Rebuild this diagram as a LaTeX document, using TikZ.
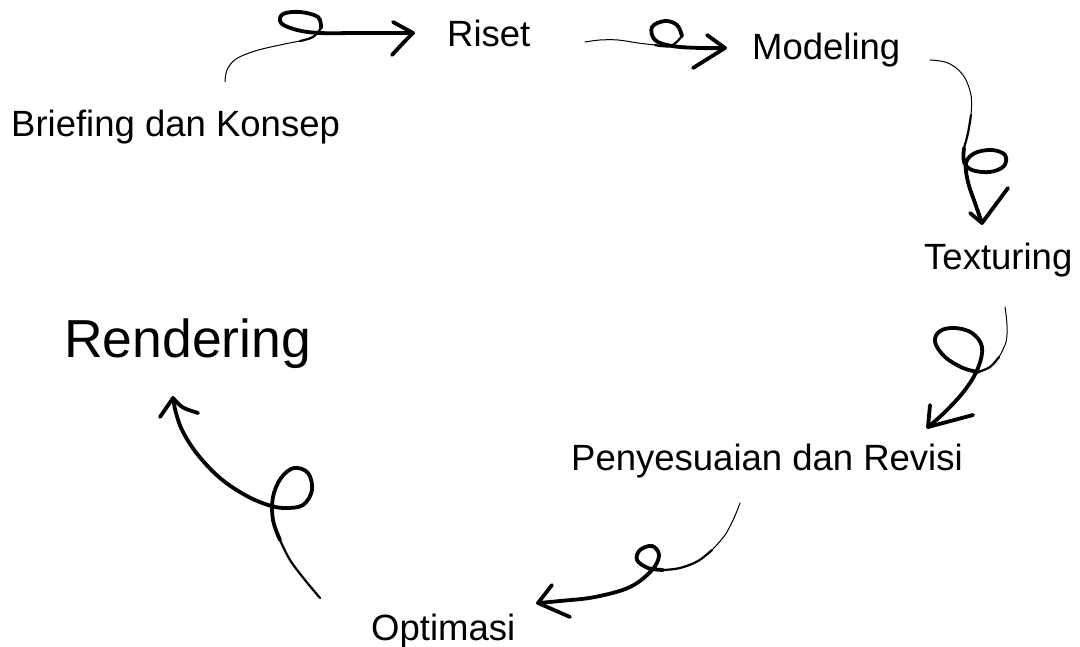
\documentclass[tikz,border=0pt]{standalone}
\usepackage{fontspec}
\setmainfont{Liberation Sans}
\begin{document}
\begin{tikzpicture}[x=1pt,y=-1pt,
  lbl/.style={anchor=base west, inner sep=0pt, font=\fontsize{36.5}{40}\selectfont},
  big/.style={anchor=base west, inner sep=0pt, font=\fontsize{53.5}{58}\selectfont},
  wa/.style={line width=1pt, line cap=round, line join=round},
  wb/.style={line width=2.2pt, line cap=round, line join=round},
  wc/.style={line width=3.8pt, line cap=round, line join=round},
  sm/.style={smooth, tension=0.6}]
\fill[white] (0,0) rectangle (1080,647);
\useasboundingbox (0,0) rectangle (1080,647);

% labels
\node[lbl] (brief) at (11,137) {Briefing dan Konsep};
\node[lbl] (riset) at (447,47) {Riset};
\node[lbl] (model) at (752,60) {Modeling};
\node[lbl] (tex) at (924,270) {Texturing};
\node[lbl] (rev) at (571,470) {Penyesuaian dan Revisi};
\node[lbl] (opt) at (371,640) {Optimasi};
\node[big] (rend) at (64,358) {Rendering};

% connector end points
\coordinate (a1s) at (225,82);  \coordinate (a1e) at (413,33);
\coordinate (a2s) at (585,42);  \coordinate (a2e) at (725,48);
\coordinate (a3s) at (930,60);  \coordinate (a3e) at (982,223);
\coordinate (a4s) at (1005,307);\coordinate (a4e) at (928,427);
\coordinate (a5s) at (740,503); \coordinate (a5e) at (538,603);
\coordinate (a6s) at (320,598); \coordinate (a6e) at (173,398);

% arrow 1: Briefing -> Riset
\draw[wa] plot[sm] coordinates {(a1s) (227,70) (236,59) (255,51) (280,45) (300,41)};
\draw[wb] plot[sm] coordinates {(300,41) (313,37) (321,28)};
\draw[wc] plot[sm] coordinates {(321,28) (318,17) (300,12) (283,14) (281,23) (297,30) (320,33) (360,33) (a1e)};
\draw[wc] (393,22) -- (a1e) .. controls (404,42) .. (392,55);

% arrow 2: Riset -> Modeling
\draw[wa] plot[sm] coordinates {(a2s) (600,40) (618,40) (638,43) (655,45)};
\draw[wb] plot[sm] coordinates {(655,45) (671,46) (682,36)};
\draw[wc] plot[sm] coordinates {(682,36) (677,25) (665,21) (652,27) (655,40) (672,46) (700,48) (a2e)};
\draw[wc] (707,35) -- (a2e) -- (693,68);

% arrow 3: Modeling -> Texturing
\draw[wa] plot[sm] coordinates {(a3s) (948,63) (963,75) (971,95) (971,115)};
\draw[wb] plot[sm] coordinates {(971,115) (968,133) (964,148)};
\draw[wc] plot[sm] coordinates {(964,148) (964,162) (972,170) (990,172) (1004,166) (1005,155) (992,150) (975,153) (966,163) (968,182) (975,203) (a3e)};
\draw[wc] (970,213) -- (a3e) -- (1008,188);

% arrow 4: Texturing -> Penyesuaian
\draw[wa] plot[sm] coordinates {(a4s) (1007,325) (1006,342) (999,357)};
\draw[wb] plot[sm] coordinates {(999,357) (990,367) (978,372)};
\draw[wc] plot[sm] coordinates {(978,372) (963,368) (945,357) (935,342) (940,331) (955,328) (972,333) (982,347) (978,368) (965,390) (945,412) (a4e)};
\draw[wc] (930,405) -- (a4e) -- (973,415);

% arrow 5: Penyesuaian -> Optimasi
\draw[wa] plot[sm] coordinates {(a5s) (734,518) (725,535) (712,550)};
\draw[wb] plot[sm] coordinates {(712,550) (698,561) (680,568) (663,570)};
\draw[wc] plot[sm] coordinates {(663,570) (648,568) (637,560) (640,550) (652,546) (659,555) (652,570) (630,587) (595,597) (560,601) (a5e)};
\draw[wc] (552,585) -- (a5e) -- (570,617);

% arrow 6: Optimasi -> Rendering
\draw[wb] plot[sm] coordinates {(a6s) (305,580) (290,560) (280,540)};
\draw[wc] plot[sm] coordinates {(280,540) (273,520) (273,497) (281,478) (294,468) (308,473) (312,490) (303,505) (285,508) (268,505) (245,495) (220,478) (198,455) (183,432) (176,413) (a6e)};
\draw[wc] (160,417) -- (a6e) .. controls (182,408) .. (198,413);
\end{tikzpicture}
\end{document}
